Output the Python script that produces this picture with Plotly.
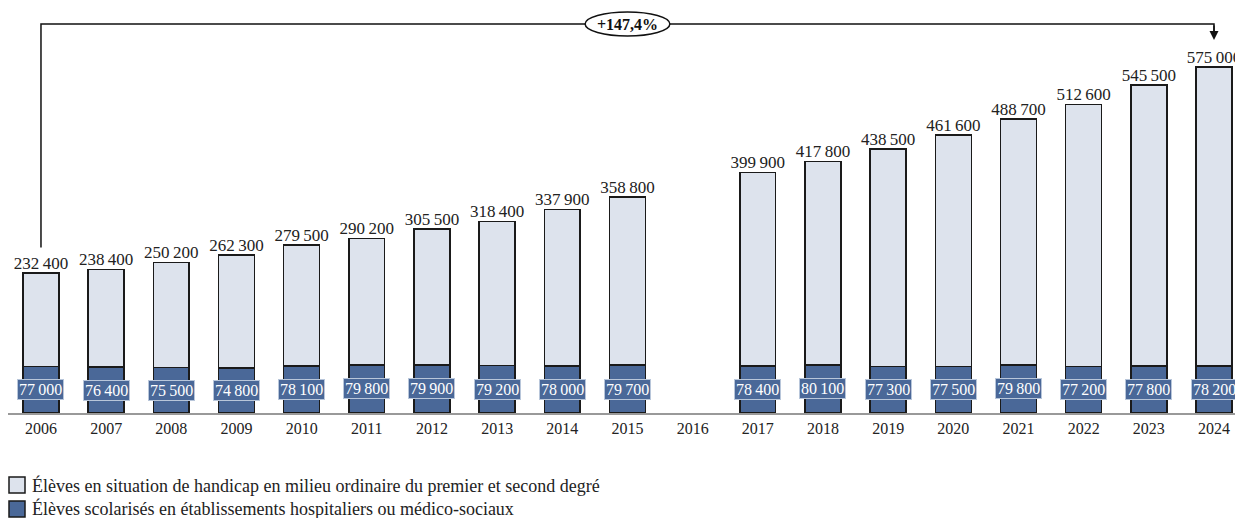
import plotly.graph_objects as go

years = [2006, 2007, 2008, 2009, 2010, 2011, 2012, 2013, 2014, 2015,
         2017, 2018, 2019, 2020, 2021, 2022, 2023, 2024]
tick_years = list(range(2006, 2025))
totals = [232400, 238400, 250200, 262300, 279500, 290200, 305500, 318400, 337900, 358800,
          399900, 417800, 438500, 461600, 488700, 512600, 545500, 575000]
hosp = [77000, 76400, 75500, 74800, 78100, 79800, 79900, 79200, 78000, 79700,
        78400, 80100, 77300, 77500, 79800, 77200, 77800, 78200]
ordinary = [t - h for t, h in zip(totals, hosp)]
growth_label = "+147,4%"
name_ord = "Élèves en situation de handicap en milieu ordinaire du premier et second degré"
name_hosp = "Élèves scolarisés en établissements hospitaliers ou médico-sociaux"

def fr(v):
    return f"{v:,}".replace(",", "\u202f")

FONT = "Liberation Serif"
DARK = "#4a6898"
LIGHT = "#dde3ed"
OFF = 8                      # page body margin
W, H = 1243 - OFF, 518 - OFF
ML, MB = 0, 105

fig = go.Figure()
fig.add_trace(go.Bar(
    x=years, y=hosp, name=name_hosp,
    marker=dict(color=DARK, line=dict(color="#1a1a1a", width=1.5)), width=0.55,
    hoverinfo="skip", showlegend=False))
fig.add_trace(go.Bar(
    x=years, y=ordinary, name=name_ord,
    marker=dict(color=LIGHT, line=dict(color="#1a1a1a", width=1.5)), width=0.55,
    hoverinfo="skip", showlegend=False))
fig.add_trace(go.Scatter(
    x=years, y=totals, mode="text", text=[fr(v) for v in totals],
    textposition="top center", textfont=dict(family=FONT, size=17, color="#222"),
    showlegend=False, hoverinfo="skip", cliponaxis=False))

annotations = []
for x, h in zip(years, hosp):
    annotations.append(dict(
        x=x, y=h / 2, xref="x", yref="y", text=fr(h), showarrow=False,
        font=dict(family=FONT, size=16, color="white"),
        bgcolor=DARK, bordercolor="#b8c6da", borderwidth=1, borderpad=1))

y_line = 646400
annotations.append(dict(
    x=2024, y=620000, ax=2024, ay=y_line, xref="x", yref="y", axref="x", ayref="y",
    text="", showarrow=True, arrowhead=2, arrowsize=1.2, arrowwidth=1.5, arrowcolor="#111"))
annotations.append(dict(
    x=2015, y=y_line, xref="x", yref="y", text="<b>" + growth_label + "</b>", showarrow=False,
    font=dict(family=FONT, size=16, color="#111")))

shapes = [
    dict(type="path", xref="x", yref="y",
         path=f"M 2006,275000 L 2006,{y_line} L 2024,{y_line} L 2024,625000",
         line=dict(color="#111", width=1.5)),
    dict(type="circle", xref="x", yref="y", x0=2014.35, x1=2015.65, y0=626500, y1=666400,
         fillcolor="white", line=dict(color="#111", width=1.5)),
]

# manual legend (paper coordinates converted from reference-page pixels)
PW = W - ML
PH = H - MB
def px(xp):
    return (xp - OFF - ML) / PW
def py(yp):
    return (PH - (yp - OFF)) / PH

legend_items = [(name_ord, LIGHT, 485), (name_hosp, DARK, 509)]
for name, col, yc in legend_items:
    shapes.append(dict(type="rect", xref="paper", yref="paper",
                       x0=px(9), x1=px(25), y0=py(yc + 8), y1=py(yc - 8),
                       fillcolor=col, line=dict(color="#1a1a1a", width=1.5)))
    annotations.append(dict(x=px(30), y=py(yc), xref="paper", yref="paper",
                            xanchor="left", yanchor="middle", text=name, showarrow=False,
                            font=dict(family=FONT, size=18, color="#222")))

fig.update_layout(
    width=W, height=H,
    margin=dict(l=ML, r=0, t=0, b=MB, autoexpand=False),
    barmode="stack",
    plot_bgcolor="white", paper_bgcolor="white",
    font=dict(family=FONT, size=16, color="#222"),
    shapes=shapes, annotations=annotations,
    showlegend=False,
)
fig.update_xaxes(range=[2005.494, 2024.445], tickmode="array", tickvals=tick_years,
                 ticktext=[str(y) for y in tick_years], showline=True, linecolor="#999",
                 linewidth=1.5, showgrid=False, zeroline=False, ticks="",
                 tickfont=dict(family=FONT, size=16, color="#222"), fixedrange=True,
                 automargin=False)
fig.update_yaxes(range=[0, 575000 * 405 / 346], visible=False, showgrid=False, zeroline=False,
                 fixedrange=True, automargin=False)

fig.write_html("out.html")
